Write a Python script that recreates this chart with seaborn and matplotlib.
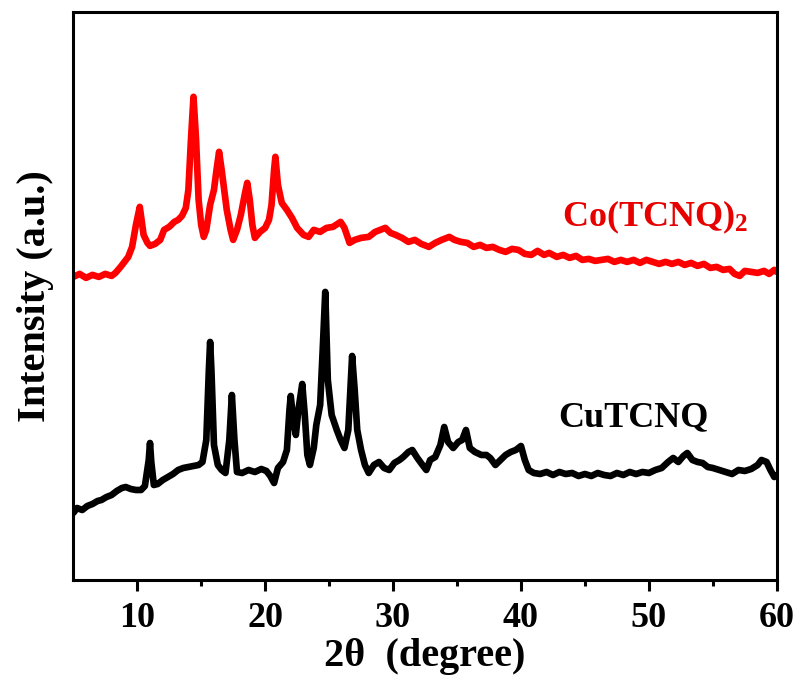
import pandas as pd
import matplotlib.pyplot as plt
import seaborn as sns

# Co(TCNQ)2 pattern (2theta, intensity a.u.)
co_x = [5.0, 5.5, 6.0, 6.5, 7.0, 7.5, 8.0, 8.3, 8.7, 9.0, 9.3, 9.6, 9.9, 10.2, 10.5, 10.8,
        11.0, 11.4, 11.8, 12.1, 12.5, 12.9, 13.2, 13.5, 13.8, 14.0, 14.2, 14.4, 14.6, 14.8,
        15.0, 15.2, 15.4, 15.7, 16.0, 16.2, 16.4, 16.6, 16.8, 17.0, 17.3, 17.5, 17.8, 18.1,
        18.4, 18.6, 18.8, 19.0, 19.2, 19.6, 20.0, 20.3, 20.5, 20.7, 20.8, 21.0, 21.3, 21.7,
        22.1, 22.5, 23.0, 23.4, 23.8, 24.3, 24.8, 25.3, 25.9, 26.2, 26.6, 27.0, 27.5, 28.1,
        28.6, 29.0, 29.4, 29.8, 30.2, 30.7, 31.2, 31.7, 32.2, 32.8, 33.3, 33.8, 34.4, 34.8,
        35.3, 35.8, 36.3, 36.8, 37.3, 37.8, 38.3, 38.8, 39.3, 39.8, 40.3, 40.8, 41.3, 41.8,
        42.2, 42.8, 43.3, 43.8, 44.3, 44.8, 45.3, 45.8, 46.3, 46.8, 47.3, 47.8, 48.3, 48.8,
        49.3, 49.8, 50.3, 50.8, 51.3, 51.8, 52.3, 52.8, 53.3, 53.8, 54.3, 54.8, 55.3, 55.8,
        56.3, 56.7, 57.1, 57.5, 58.0, 58.5, 59.0, 59.4, 59.8, 60.0]
co_y = [303, 306, 302, 305, 303, 306, 304, 307, 313, 318, 323, 333, 355, 373, 345, 337,
        334, 336, 340, 350, 353, 358, 360, 364, 372, 390, 440, 483, 440, 380,
        355, 343, 350, 375, 390, 410, 428, 410, 390, 370, 350, 340, 350, 365,
        385, 397, 380, 355, 342, 348, 352, 360, 375, 410, 423, 395, 377, 370,
        362, 352, 345, 343, 350, 348, 352, 353, 358, 352, 337, 340, 342, 343,
        348, 350, 352, 347, 345, 342, 338, 340, 336, 333, 337, 340, 343, 340,
        338, 337, 333, 335, 332, 333, 330, 328, 331, 330, 326, 325, 329, 325,
        327, 323, 325, 322, 324, 320, 321, 319, 320, 321, 318, 320, 318, 320,
        317, 320, 318, 316, 318, 316, 318, 315, 317, 314, 316, 312, 313, 310,
        311, 306, 304, 309, 308, 307, 309, 306, 310, 308]

# CuTCNQ pattern
cu_x = [5.0, 5.3, 5.7, 6.1, 6.5, 6.9, 7.2, 7.6, 8.0, 8.4, 8.8, 9.1, 9.5, 9.9, 10.3, 10.6,
        10.9, 11.0, 11.1, 11.3, 11.6, 12.0, 12.4, 12.8, 13.2, 13.6, 14.0, 14.4, 14.8, 15.1,
        15.4, 15.6, 15.7, 15.8, 16.0, 16.3, 16.6, 16.9, 17.2, 17.4, 17.6, 17.8, 18.2, 18.7,
        19.2, 19.7, 20.1, 20.4, 20.7, 21.0, 21.4, 21.7, 21.9, 22.0, 22.2, 22.4, 22.6, 22.9,
        23.1, 23.3, 23.5, 23.8, 24.0, 24.3, 24.5, 24.7, 24.9, 25.2, 25.6, 25.9, 26.2, 26.5,
        26.8, 27.0, 27.2, 27.5, 27.8, 28.1, 28.5, 28.9, 29.3, 29.7, 30.1, 30.5, 30.8, 31.2,
        31.5, 31.9, 32.3, 32.6, 32.9, 33.3, 33.7, 34.0, 34.3, 34.7, 35.1, 35.4, 35.7, 36.0,
        36.4, 36.9, 37.3, 37.6, 38.0, 38.4, 38.8, 39.2, 39.6, 40.0, 40.3, 40.6, 41.0, 41.5,
        42.0, 42.5, 43.0, 43.5, 44.0, 44.5, 45.0, 45.5, 46.0, 46.5, 47.0, 47.5, 48.0, 48.5,
        49.0, 49.5, 50.0, 50.5, 51.0, 51.5, 51.9, 52.3, 52.7, 53.0, 53.4, 53.8, 54.2, 54.6,
        55.0, 55.5, 56.0, 56.5, 57.0, 57.5, 58.0, 58.5, 58.8, 59.2, 59.5, 59.8, 60.0]
cu_y = [67, 72, 70, 74, 76, 79, 80, 83, 85, 89, 92, 93, 91, 90, 90, 94,
        120, 137, 118, 95, 96, 100, 103, 106, 110, 112, 113, 114, 115, 118,
        140, 210, 238, 210, 135, 115, 110, 107, 140, 185, 140, 108, 107, 110,
        108, 111, 109, 104, 97, 112, 118, 130, 170, 184, 160, 145, 170, 196,
        165, 125, 115, 132, 155, 175, 230, 288, 200, 165, 150, 140, 132, 150,
        224, 190, 150, 130, 115, 107, 115, 118, 112, 110, 117, 120, 123, 128,
        130, 122, 115, 110, 120, 123, 135, 153, 138, 132, 138, 140, 150, 132,
        128, 125, 125, 122, 115, 120, 125, 128, 130, 134, 120, 110, 107, 106,
        108, 105, 108, 106, 107, 104, 106, 104, 107, 105, 104, 107, 105, 108,
        106, 108, 107, 110, 112, 118, 122, 118, 124, 127, 120, 118, 117, 113,
        112, 110, 108, 106, 110, 109, 111, 115, 120, 118, 110, 103, 105]

sns.set_style("ticks")
plt.rcParams['font.family'] = ['Liberation Serif', 'DejaVu Serif']
plt.rcParams['font.weight'] = 'bold'
plt.rcParams['mathtext.fontset'] = 'custom'
plt.rcParams['mathtext.rm'] = 'Liberation Serif:bold'
plt.rcParams['mathtext.default'] = 'rm'
plt.rcParams['text.color'] = 'black'
plt.rcParams['axes.labelcolor'] = 'black'
plt.rcParams['xtick.color'] = 'black'
plt.rcParams['axes.edgecolor'] = 'black'

fig = plt.figure(figsize=(8.05, 6.93), dpi=100)
ax = fig.add_axes([0.091, 0.163, 0.874, 0.820])

df_co = pd.DataFrame({'x': co_x, 'y': co_y})
df_cu = pd.DataFrame({'x': cu_x, 'y': cu_y})
sns.lineplot(data=df_co, x='x', y='y', color='#ff0000', linewidth=4.8, estimator=None, ax=ax)
sns.lineplot(data=df_cu, x='x', y='y', color='black', linewidth=4.8, estimator=None, ax=ax)

ax.text(50.5, 363, 'Co(TCNQ)$_2$', color='#e60000', fontsize=26, fontweight='bold',
        ha='center', va='center')
ax.text(48.8, 162, 'CuTCNQ', color='black', fontsize=26, fontweight='bold',
        ha='center', va='center')

ax.set_xlim(5, 60)
ax.set_ylim(0, 568)
ax.set_xticks([10, 20, 30, 40, 50, 60])
ax.set_xticks([15, 25, 35, 45, 55], minor=True)
ax.set_yticks([])
ax.tick_params(axis='x', which='major', length=8, width=2.2, labelsize=26, pad=8)
ax.tick_params(axis='x', which='minor', length=4, width=2.2)
for lab in ax.get_xticklabels():
    lab.set_fontweight('bold')
for sp in ax.spines.values():
    sp.set_linewidth(2.2)
    sp.set_visible(True)

ax.set_xlabel('2θ  (degree)', fontsize=29, fontweight='bold', labelpad=2)
ax.set_ylabel('Intensity (a.u.)', fontsize=29, fontweight='bold', labelpad=14)

fig.savefig('out.png', dpi=100)
